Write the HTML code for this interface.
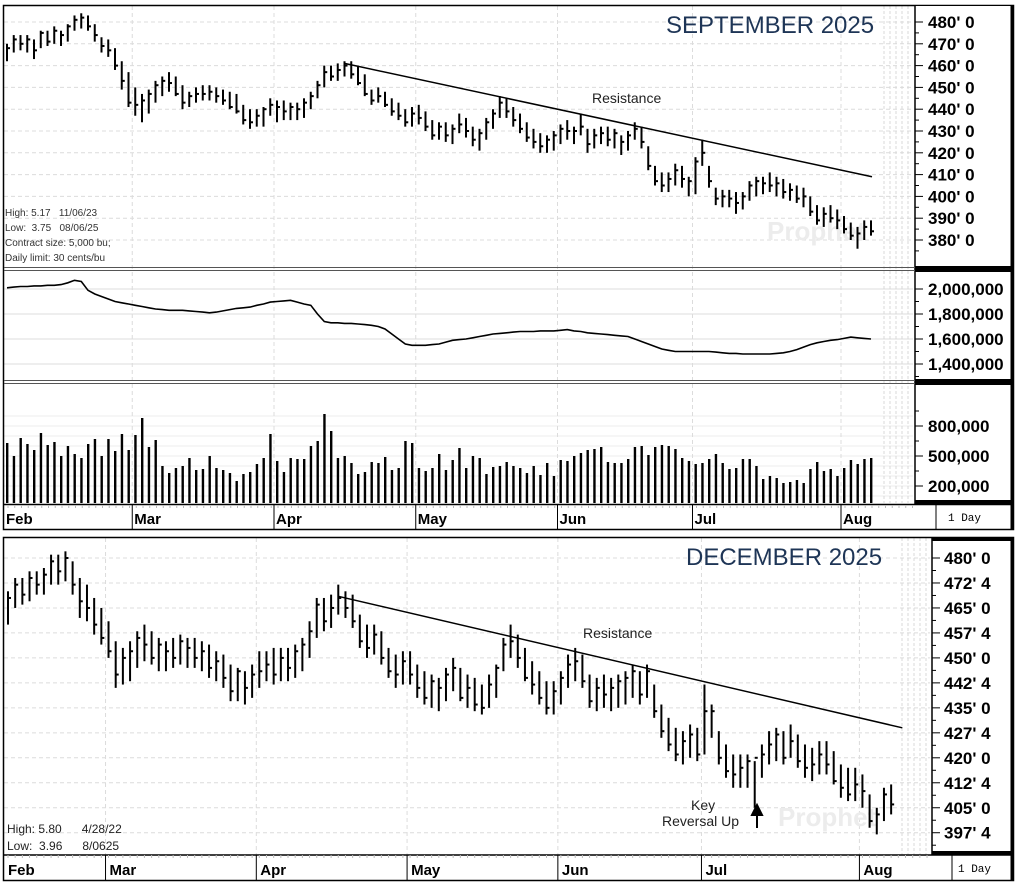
<!DOCTYPE html>
<html><head><meta charset="utf-8"><style>
html,body{margin:0;padding:0;background:#fff;}
svg{display:block;font-family:"Liberation Sans",sans-serif;}
text{white-space:pre;}
</style></head><body>
<svg id="c" width="1019" height="886" viewBox="0 0 1019 886" xmlns="http://www.w3.org/2000/svg">
<rect x="0" y="0" width="1019" height="886" fill="#fff"/>
<g id="grid"></g>
<g id="marks"></g>
<g id="frame"></g>
<g id="labels"></g>
</svg>
<script>
// ---------- DATA: September 2025 ----------
const sepHi=[470,474,474,474,472,476,476,478,476,479,483,484,483,479,473,472,468,462,457,
450,447,449,453,455,457,455,451,448,450,451,451,450,449,448,447,442,440,440,441,445,
444,444,443,443,445,448,453,460,460,461,462,462,460,456,449,450,448,445,443,440,441,
442,439,435,434,434,433,438,436,432,431,436,440,446,445,441,438,434,431,429,428,430,
433,435,432,438,431,431,432,432,431,428,430,434,432,423,414,411,411,415,414,409,
418,426,414,404,403,403,402,402,407,409,409,411,409,408,406,405,404,400,396,395,396,394,
391,388,386,389,389];
const sepLo=[462,466,467,466,463,468,469,470,469,471,476,477,476,471,466,464,458,449,441,
437,434,438,443,446,448,446,440,441,443,444,444,443,442,440,438,433,431,432,432,437,
434,435,435,435,436,440,445,450,453,453,455,454,451,446,442,443,441,437,435,432,432,
433,430,426,426,425,424,429,427,423,421,426,431,436,436,432,429,425,422,420,420,421,
424,426,424,428,420,422,424,423,422,419,421,426,422,412,405,402,402,405,404,400,
401,414,404,396,395,395,392,394,398,400,401,402,400,399,398,397,395,391,387,386,388,385,
383,380,376,380,382];
const sepCl=[468,472,470,472,467,475,471,476,474,478,481,482,478,474,469,467,460,453,443,
442,444,447,451,453,452,447,443,446,447,447,448,446,444,441,439,435,434,437,440,442,
441,439,441,440,443,446,451,457,455,458,460,456,452,447,444,446,442,439,437,434,438,
436,432,428,432,428,431,433,430,426,429,434,438,443,439,435,431,427,425,423,426,428,
431,430,430,432,424,428,429,426,429,425,428,431,425,414,407,405,408,412,408,407,
416,420,407,399,400,399,397,400,405,407,406,405,406,402,403,399,400,393,389,392,390,389,
385,382,383,386,384];
const sepOI=[2010,2015,2020,2020,2025,2025,2030,2030,2035,2050,2070,2060,1990,1960,1940,1920,1900,1890,1880,
1870,1860,1850,1840,1835,1830,1830,1830,1825,1820,1815,1810,1815,1825,1835,1845,1850,1855,1870,1880,1895,
1900,1905,1910,1895,1880,1870,1800,1740,1730,1730,1725,1725,1720,1715,1710,1700,1680,1640,1600,1560,1550,
1550,1550,1555,1560,1575,1590,1595,1600,1610,1620,1630,1640,1645,1650,1655,1660,1660,1660,1665,1665,1665,
1670,1675,1665,1660,1650,1645,1640,1635,1630,1625,1620,1600,1580,1560,1540,1520,1510,1500,1500,1500,
1500,1500,1500,1495,1490,1485,1485,1480,1480,1480,1480,1480,1485,1490,1500,1515,1535,1555,1570,1580,1590,1595,
1605,1615,1610,1605,1600];
const sepVol=[630,500,680,620,560,730,610,640,500,600,520,480,620,670,500,670,550,720,560,
710,880,590,660,400,330,380,400,480,360,370,500,380,360,330,250,320,340,420,480,720,
450,340,480,470,470,600,650,920,750,480,500,430,320,340,440,430,490,360,380,650,630,
380,350,380,520,360,460,580,380,500,480,320,390,400,440,400,380,330,400,310,430,300,
460,450,500,530,560,570,590,440,430,430,470,590,600,510,590,610,600,570,480,450,
420,430,470,520,430,370,380,470,470,400,270,300,280,230,240,260,230,370,440,350,370,300,
380,460,420,470,480];
const sepPriceTicks=[480,470,460,450,440,430,420,410,400,390,380];
const sepPriceLabels=["480' 0","470' 0","460' 0","450' 0","440' 0","430' 0","420' 0","410' 0","400' 0","390' 0","380' 0"];
const oiTicks=[2000,1800,1600,1400];
const oiLabels=["2,000,000","1,800,000","1,600,000","1,400,000"];
const volTicks=[800,500,200];
const volLabels=["800,000","500,000","200,000"];
const sepMonths=["Feb","Mar","Apr","May","Jun","Jul","Aug"];
const sepMonthStart=[0,19,40,61,82,102,124];
const sepTrend=[[50,461],[128,409]];

// ---------- DATA: December 2025 ----------
const decHi=[470,474,474,476,476,477,481,481,482,479,474,472,468,465,
461,455,453,455,458,460,458,456,455,456,457,456,456,455,454,452,451,448,447,446,448,
452,452,453,453,453,454,456,461,468,468,469,472,470,469,463,460,460,458,453,451,452,
452,448,446,445,444,447,450,447,445,444,442,445,448,456,460,457,453,449,446,443,443,
446,451,453,451,445,444,445,444,445,446,448,446,448,442,436,432,429,428,430,429,
442,436,428,424,421,421,421,419,424,428,429,428,430,427,424,423,425,425,422,418,417,417,
415,409,405,411,412];
const decLo=[460,465,466,467,469,469,472,472,473,469,462,461,457,454,
450,441,442,443,447,449,448,446,446,447,448,447,447,446,444,443,441,437,437,436,438,
441,443,442,443,443,444,446,450,456,458,459,463,462,459,453,450,451,448,444,441,442,
442,438,436,435,434,437,440,437,435,434,433,435,438,446,450,447,443,439,436,433,433,
436,441,443,441,435,434,435,434,435,436,438,436,438,432,426,422,419,418,420,419,
421,426,418,414,411,411,411,405,414,418,419,418,420,417,414,413,415,415,412,408,407,407,
405,399,397,401,403];
const decCl=[468,472,469,474,472,475,479,476,480,472,467,465,460,456,
452,445,450,452,456,454,450,454,452,450,455,453,450,452,447,449,444,440,446,441,445,
446,448,445,450,447,452,454,458,466,461,465,468,465,461,455,453,457,450,446,445,449,
445,441,438,443,441,445,447,438,441,436,435,442,447,454,455,450,444,442,438,435,440,
444,448,449,443,437,441,439,441,443,444,446,439,446,434,428,424,421,425,427,421,
434,434,420,416,415,417,419,420,421,424,427,420,425,419,417,418,421,418,413,411,409,412,
410,401,403,409,406];
const decPriceTicks=[480,472.5,465,457.5,450,442.5,435,427.5,420,412.5,405,397.5];
const decPriceLabels=["480' 0","472' 4","465' 0","457' 4","450' 0","442' 4","435' 0","427' 4","420' 0","412' 4","405' 0","397' 4"];
const decMonths=["Feb","Mar","Apr","May","Jun","Jul","Aug"];
const decMonthStart=[0,14,35,56,77,97,119];
const decTrend=[[46,468.5],[124,429]];

// ---------- helpers ----------
const NS="http://www.w3.org/2000/svg";
function mk(tag,attrs,parent){const e=document.createElementNS(NS,tag);for(const k in attrs)e.setAttribute(k,attrs[k]);parent.appendChild(e);return e;}
const G=document.getElementById('grid'),M=document.getElementById('marks'),F=document.getElementById('frame'),L=document.getElementById('labels');

const sepX=i=>7+i*6.75;
const sepY=p=>22+(480-p)*2.18;
const oiY=v=>289+(2000-v)*0.125;
const volY=v=>506-v*0.1;
const decX=i=>8+i*7.18;
const decY=p=>558+(480-p)*3.33;

function hline(y,x1,x2,dash){return mk('line',{x1:x1,x2:x2,y1:y,y2:y,stroke:'#dcdcdc','stroke-width':1,'stroke-dasharray':dash||'4,3'},G);}
function vline(x,y1,y2){return mk('line',{x1:x,x2:x,y1:y1,y2:y2,stroke:'#dcdcdc','stroke-width':1,'stroke-dasharray':'4,3'},G);}

sepPriceTicks.forEach(p=>{const l=hline(sepY(p),4,913);});
oiTicks.forEach(v=>{const l=hline(oiY(v),4,913,'none');});
[900,700,600,400,300,100].concat(volTicks).forEach(v=>{const l=hline(volY(v),4,913,'none');l.setAttribute('stroke','#ececec');});
sepMonthStart.slice(1).forEach(i=>{const l=vline(sepX(i)-3,6,503);});
decPriceTicks.forEach(p=>{const l=hline(decY(p),4,930);});
decMonthStart.slice(1).forEach(i=>{const l=vline(decX(i)-3,538,855);});
for(let k=0;k<5;k++){
  const a=mk('line',{x1:884+k*6,x2:884+k*6,y1:6,y2:503,stroke:'#d8d8d8','stroke-dasharray':'3,2'},G);
  
  const b=mk('line',{x1:902+k*6,x2:902+k*6,y1:538,y2:855,stroke:'#d8d8d8','stroke-dasharray':'3,2'},G);
  
}

const w1=mk('text',{x:767,y:240,'font-size':26,'font-weight':'bold',fill:'#ececec'},G);w1.textContent='Prophet';

const w2=mk('text',{x:778,y:826,'font-size':26,'font-weight':'bold',fill:'#ececec'},G);w2.textContent='Prophet';


function drawBars(hi,lo,cl,X,Y,tw,name){
  for(let i=0;i<hi.length;i++){
    const x=X(i);
    const b=mk('line',{x1:x,x2:x,y1:Y(hi[i]),y2:Y(lo[i]),stroke:'#000','stroke-width':2},M);
    
    
    const t=mk('line',{x1:x,x2:x+tw,y1:Y(cl[i]),y2:Y(cl[i]),stroke:'#000','stroke-width':2},M);
    
    
  }
}
drawBars(sepHi,sepLo,sepCl,sepX,sepY,3,'sep-price-bar');
drawBars(decHi,decLo,decCl,decX,decY,3,'dec-price-bar');

const t1=mk('line',{x1:sepX(sepTrend[0][0]),y1:sepY(sepTrend[0][1]),x2:sepX(sepTrend[1][0])+1,y2:sepY(sepTrend[1][1]),stroke:'#000','stroke-width':1.5},M);

const t2=mk('line',{x1:decX(decTrend[0][0]),y1:decY(decTrend[0][1]),x2:decX(decTrend[1][0])+4,y2:decY(decTrend[1][1]),stroke:'#000','stroke-width':1.5},M);


let d='';
sepOI.forEach((v,i)=>{d+=(i?'L':'M')+sepX(i).toFixed(1)+' '+oiY(v).toFixed(1);});
const oi=mk('path',{d:d,fill:'none',stroke:'#000','stroke-width':1.6},M);


sepVol.forEach((v,i)=>{
  const r=mk('rect',{x:sepX(i)-1,y:volY(v),width:2.4,height:503-volY(v),fill:'#000'},M);
  
  
});

function rect(x,y,w,h,sw,name){const r=mk('rect',{x:x,y:y,width:w,height:h,fill:'none',stroke:'#000','stroke-width':sw},F);return r;}
rect(3.5,5.5,1010,524,1.5,'sep-chart-frame');
const ax1=mk('rect',{x:915,y:6,width:98,height:499,fill:'#fff'},F);
mk('line',{x1:915,x2:915,y1:6,y2:505,stroke:'#000','stroke-width':1.5},F);
mk('line',{x1:1012,x2:1012,y1:6,y2:529,stroke:'#000','stroke-width':3},F);
[269,382].forEach(y=>{
  mk('line',{x1:4,x2:915,y1:y-1.5,y2:y-1.5,stroke:'#555','stroke-width':1},F);
  mk('line',{x1:4,x2:915,y1:y+1.5,y2:y+1.5,stroke:'#555','stroke-width':1},F);
  mk('rect',{x:915,y:y-3,width:97,height:6,fill:'#000'},F);
});
mk('rect',{x:915,y:266,width:97,height:2,fill:'#000'},F);
mk('line',{x1:4,x2:1012,y1:504.5,y2:504.5,stroke:'#000','stroke-width':1.5},F);
mk('rect',{x:915,y:500,width:97,height:4,fill:'#000'},F);
mk('line',{x1:936,x2:936,y1:505,y2:529,stroke:'#000','stroke-width':1},F);
rect(3.5,537.5,1010,343,1.5,'dec-chart-frame');
const ax2=mk('rect',{x:932,y:538,width:80,height:317,fill:'#fff'},F);
mk('line',{x1:932,x2:932,y1:538,y2:855,stroke:'#000','stroke-width':1.5},F);
mk('line',{x1:1012,x2:1012,y1:538,y2:881,stroke:'#000','stroke-width':3},F);
mk('rect',{x:932,y:538,width:80,height:3,fill:'#000'},F);
mk('line',{x1:4,x2:1012,y1:855,y2:855,stroke:'#000','stroke-width':1.5},F);
mk('rect',{x:932,y:851,width:80,height:4,fill:'#000'},F);
mk('line',{x1:952,x2:952,y1:855,y2:881,stroke:'#000','stroke-width':1},F);

function txt(x,y,s,size,name,opts){const t=mk('text',Object.assign({x:x,y:y,'font-size':size,fill:'#000'},opts||{}),L);t.textContent=s;return t;}
sepPriceTicks.forEach((p,i)=>{
  mk('line',{x1:915,x2:923,y1:sepY(p),y2:sepY(p),stroke:'#000'},L);
  mk('line',{x1:915,x2:919,y1:sepY(p-5),y2:sepY(p-5),stroke:'#000'},L);
  txt(928,sepY(p)+6,sepPriceLabels[i],17,'sep-price-tick-label',{'font-weight':'bold'});
});
oiTicks.forEach((v,i)=>{
  mk('line',{x1:915,x2:923,y1:oiY(v),y2:oiY(v),stroke:'#000'},L);
  mk('line',{x1:915,x2:919,y1:oiY(v-100),y2:oiY(v-100),stroke:'#000'},L);
  txt(928,oiY(v)+6,oiLabels[i],17,'oi-tick-label',{'font-weight':'bold'});
});
volTicks.forEach((v,i)=>{
  mk('line',{x1:915,x2:923,y1:volY(v),y2:volY(v),stroke:'#000'},L);
  mk('line',{x1:915,x2:919,y1:volY(v+150),y2:volY(v+150),stroke:'#000'},L);
  txt(928,volY(v)+6,volLabels[i],17,'volume-tick-label',{'font-weight':'bold'});
});
decPriceTicks.forEach((p,i)=>{
  mk('line',{x1:932,x2:940,y1:decY(p),y2:decY(p),stroke:'#000'},L);
  mk('line',{x1:932,x2:936,y1:decY(p-3.75),y2:decY(p-3.75),stroke:'#000'},L);
  txt(944,decY(p)+6,decPriceLabels[i],17,'dec-price-tick-label',{'font-weight':'bold'});
});
sepMonths.forEach((m,i)=>{
  const x=i?sepX(sepMonthStart[i])-3:4;
  if(i)mk('line',{x1:x,x2:x,y1:505,y2:529,stroke:'#000'},L);
  txt(x+2,524,m,15,'sep-month-label',{'font-weight':'bold'});
});
for(let x=8;x<913;x+=6.75)mk('line',{x1:x,x2:x,y1:505,y2:508,stroke:'#bbb'},L);
decMonths.forEach((m,i)=>{
  const x=i?decX(decMonthStart[i])-3:4;
  if(i)mk('line',{x1:x,x2:x,y1:855,y2:881,stroke:'#000'},L);
  txt(x+4,875,m,15,'dec-month-label',{'font-weight':'bold'});
});
for(let x=8;x<930;x+=7.18)mk('line',{x1:x,x2:x,y1:855,y2:858,stroke:'#bbb'},L);
txt(948,521,'1 Day',11,'interval-label',{'font-family':'Liberation Mono, monospace'});
txt(958,872,'1 Day',11,'interval-label',{'font-family':'Liberation Mono, monospace'});

txt(666,33,'SEPTEMBER 2025',24,'sep-title',{fill:'#1e3556'});
txt(686,565,'DECEMBER 2025',24,'dec-title',{fill:'#1e3556'});
txt(592,103,'Resistance',14,'resistance-label',{fill:'#222'});
txt(583,638,'Resistance',14,'resistance-label',{fill:'#222'});
txt(5,216,'High: 5.17   11/06/23',10,'contract-high',{fill:'#333'});
txt(5,231,'Low:  3.75   08/06/25',10,'contract-low',{fill:'#333'});
txt(5,246,'Contract size: 5,000 bu;',10,'contract-size',{fill:'#333'});
txt(5,261,'Daily limit: 30 cents/bu',10,'daily-limit',{fill:'#333'});
txt(7,833,'High: 5.80      4/28/22',12,'contract-high',{fill:'#222'});
txt(7,850,'Low:  3.96      8/0625',12,'contract-low',{fill:'#222'});
txt(691,810,'Key',14,'key-reversal-label',{fill:'#222'});
txt(662,826,'Reversal Up',14,'key-reversal-label',{fill:'#222'});
const ar=mk('path',{d:'M757 828 L757 810 M752 815 L757 805 L762 815 Z',stroke:'#000','stroke-width':2,fill:'#000'},L);

</script>
</body></html>
